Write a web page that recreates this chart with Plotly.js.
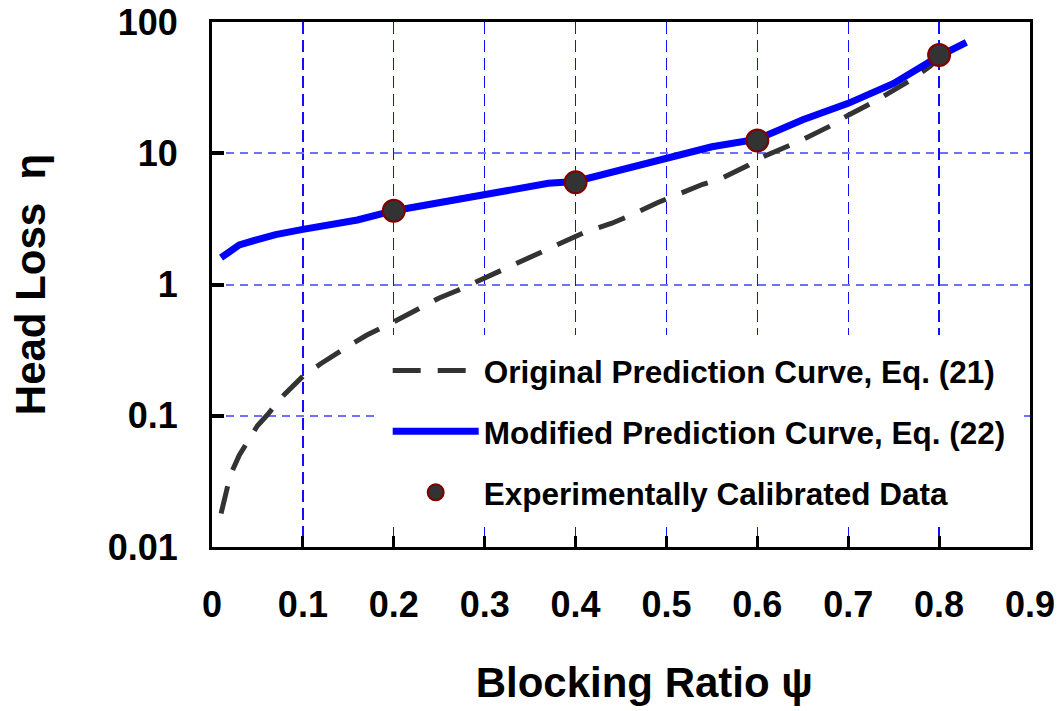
<!DOCTYPE html>
<html>
<head>
<meta charset="utf-8">
<script src="https://cdn.plot.ly/plotly-3.0.1.min.js"></script>
<style>html,body{margin:0;padding:0;background:#fff;}#chart{width:1061px;height:711px;}</style>
</head>
<body>
<div id="chart"></div>
<script>
// Original Prediction Curve, Eq. (21)
const origX = [0.01, 0.02, 0.03, 0.04, 0.05, 0.06, 0.08, 0.10, 0.12, 0.15, 0.17, 0.20, 0.22, 0.25, 0.27, 0.30, 0.34, 0.36, 0.39, 0.41, 0.44, 0.46, 0.49, 0.51, 0.54, 0.56, 0.59, 0.60, 0.63, 0.65, 0.68, 0.70, 0.73, 0.75, 0.77, 0.79, 0.81];
const origY = [0.018, 0.035, 0.05, 0.066, 0.084, 0.10, 0.146, 0.20, 0.25, 0.34, 0.41, 0.52, 0.62, 0.79, 0.90, 1.12, 1.51, 1.72, 2.17, 2.5, 2.93, 3.35, 4.2, 4.75, 5.8, 6.4, 8.1, 9.0, 11.1, 12.7, 16.1, 19.5, 25, 30, 36.5, 46, 62];
// Modified Prediction Curve, Eq. (22)
const modX = [0.01, 0.02, 0.03, 0.05, 0.07, 0.10, 0.13, 0.15, 0.16, 0.20, 0.25, 0.30, 0.35, 0.37, 0.40, 0.45, 0.50, 0.52, 0.55, 0.60, 0.65, 0.70, 0.75, 0.80, 0.83];
const modY = [1.6, 1.82, 2.0, 2.2, 2.4, 2.63, 2.9, 3.05, 3.1, 3.65, 4.2, 4.75, 5.45, 5.9, 6.1, 7.4, 9.15, 10.0, 11.2, 12.8, 18.0, 24.0, 34, 55, 70];
// Experimentally Calibrated Data
const expX = [0.2, 0.4, 0.6, 0.8];
const expY = [3.65, 6.0, 12.5, 56];

const xTicks = [0, 0.1, 0.2, 0.3, 0.4, 0.5, 0.6, 0.7, 0.8, 0.9];
const xTickText = ['0', '0.1', '0.2', '0.3', '0.4', '0.5', '0.6', '0.7', '0.8', '0.9'];
const yTicks = [0.01, 0.1, 1, 10, 100];
const yTickText = ['0.01', '0.1', '1', '10', '100'];

const FONT = 'Arial, "Liberation Sans", sans-serif';
const NB = '\u00a0';
const ZW = '\u200b';

const traces = [
  {x: origX, y: origY, type: 'scatter', mode: 'lines', name: 'Original Prediction Curve, Eq. (21)', legendgroup: 'a',
   line: {color: '#333333', width: 5, dash: '28px,17px'}},
  {x: modX, y: modY, type: 'scatter', mode: 'lines', name: 'Modified Prediction Curve, Eq. (22)', legendgroup: 'b',
   line: {color: '#0000ff', width: 7}},
  {x: expX, y: expY, type: 'scatter', mode: 'markers', name: 'Experimentally Calibrated Data', legendgroup: 'c',
   marker: {color: '#333333', size: 22, line: {color: '#800000', width: 2}}}
];

const layout = {
  width: 1061, height: 711,
  paper_bgcolor: '#ffffff', plot_bgcolor: '#ffffff',
  margin: {l: 212, r: 31, t: 22, b: 164},
  showlegend: true,
  hovermode: false,
  font: {family: FONT, color: '#000000'},
  xaxis: {
    range: [0, 0.9], tickmode: 'array', tickvals: xTicks, ticktext: xTickText,
    ticks: 'inside', ticklen: 11, tickwidth: 3, tickcolor: '#000',
    ticklabelstandoff: 24,
    tickfont: {family: FONT, size: 36, weight: 'bold', color: '#000'},
    showline: true, linecolor: '#000', linewidth: 3, mirror: true,
    showgrid: true, gridcolor: '#1010ff', gridwidth: 1.3, griddash: '12px,6px',
    zeroline: false,
    title: {text: ZW + NB + NB + NB + NB + 'Blocking Ratio ψ', font: {family: FONT, size: 42, weight: 'bold', color: '#000'}, standoff: 44}
  },
  yaxis: {
    type: 'log', range: [-2, 2], tickmode: 'array', tickvals: yTicks, ticktext: yTickText,
    ticks: 'inside', ticklen: 12, tickwidth: 4, tickcolor: '#000',
    ticklabelstandoff: 24,
    tickfont: {family: FONT, size: 36, weight: 'bold', color: '#000'},
    showline: true, linecolor: '#000', linewidth: 3, mirror: true,
    showgrid: true, gridcolor: '#7070ff', gridwidth: 2, griddash: '8px,6px',
    zeroline: false,
    title: {text: 'Head Loss' + NB + NB + 'η', font: {family: FONT, size: 42, weight: 'bold', color: '#000'}, standoff: 50}
  },
  legend: {
    x: 0.205, y: 0.403, xanchor: 'left', yanchor: 'top',
    bgcolor: '#ffffff', bordercolor: '#ffffff', borderwidth: 8,
    font: {family: FONT, size: 31.5, weight: 'bold', color: '#000'},
    tracegroupgap: 17, itemwidth: 86,
    entrywidth: 565, entrywidthmode: 'pixels'
  }
};

Plotly.newPlot('chart', traces, layout, {displayModeBar: false, staticPlot: true});
</script>
</body>
</html>
